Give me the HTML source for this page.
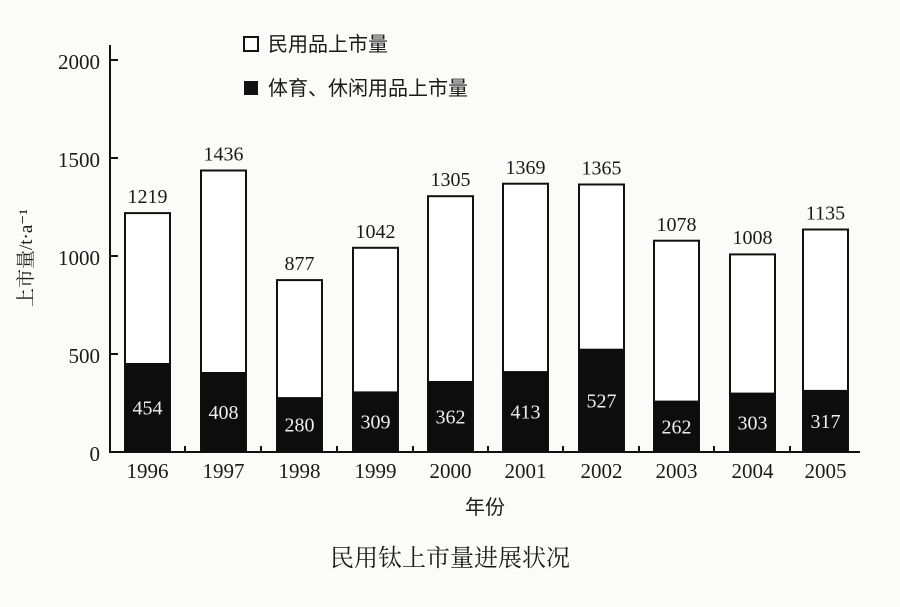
<!DOCTYPE html>
<html><head><meta charset="utf-8"><style>
html,body{margin:0;padding:0;background:#fbfbf9;}
svg{display:block}
text{font-family:"Liberation Serif","Noto Serif CJK SC",serif;fill:#1a1a1a}
.w{fill:#eee}
.b{fill:#fff;stroke:#111;stroke-width:2}
.k{fill:#0d0d0d}
</style></head><body>
<svg width="900" height="607" viewBox="0 0 900 607" xmlns="http://www.w3.org/2000/svg">
<rect width="900" height="607" fill="#fbfbf9"/>
<g stroke="#111" stroke-width="2" fill="none">
<line x1="110" y1="45" x2="110" y2="453"/>
<line x1="109" y1="452" x2="860" y2="452"/>
<line x1="110" y1="354" x2="118" y2="354"/>
<line x1="110" y1="256" x2="118" y2="256"/>
<line x1="110" y1="158" x2="118" y2="158"/>
<line x1="110" y1="60" x2="118" y2="60"/>
<line x1="185" y1="452" x2="185" y2="446"/>
<line x1="261" y1="452" x2="261" y2="446"/>
<line x1="337" y1="452" x2="337" y2="446"/>
<line x1="413" y1="452" x2="413" y2="446"/>
<line x1="488" y1="452" x2="488" y2="446"/>
<line x1="563" y1="452" x2="563" y2="446"/>
<line x1="639" y1="452" x2="639" y2="446"/>
<line x1="714" y1="452" x2="714" y2="446"/>
<line x1="790" y1="452" x2="790" y2="446"/>
</g>
<g font-size="21" text-anchor="end">
<text x="100" y="461">0</text>
<text x="100" y="363">500</text>
<text x="100" y="265">1000</text>
<text x="100" y="167">1500</text>
<text x="100" y="69">2000</text>
</g>
<text transform="translate(32,258) rotate(-90)" font-size="19" text-anchor="middle">上市量/t·a⁻¹</text>

<rect class="b" x="125" y="213.1" width="45" height="238.9"/><rect class="k" x="125" y="363" width="45" height="89"/>
<rect class="b" x="201" y="170.5" width="45" height="281.5"/><rect class="k" x="201" y="372" width="45" height="80"/>
<rect class="b" x="277" y="280.1" width="45" height="171.9"/><rect class="k" x="277" y="397.1" width="45" height="54.9"/>
<rect class="b" x="353" y="247.8" width="45" height="204.2"/><rect class="k" x="353" y="391.4" width="45" height="60.6"/>
<rect class="b" x="428" y="196.2" width="45" height="255.8"/><rect class="k" x="428" y="381" width="45" height="71"/>
<rect class="b" x="503" y="183.7" width="45" height="268.3"/><rect class="k" x="503" y="371.1" width="45" height="80.9"/>
<rect class="b" x="579" y="184.5" width="45" height="267.5"/><rect class="k" x="579" y="348.7" width="45" height="103.3"/>
<rect class="b" x="654" y="240.7" width="45" height="211.3"/><rect class="k" x="654" y="400.6" width="45" height="51.4"/>
<rect class="b" x="730" y="254.4" width="45" height="197.6"/><rect class="k" x="730" y="392.6" width="45" height="59.4"/>
<rect class="b" x="803" y="229.5" width="45" height="222.5"/><rect class="k" x="803" y="389.9" width="45" height="62.1"/>

<g font-size="20" text-anchor="middle">
<text x="147.5" y="203">1219</text>
<text x="223.5" y="160.5">1436</text>
<text x="299.5" y="270">877</text>
<text x="375.5" y="238">1042</text>
<text x="450.5" y="186">1305</text>
<text x="525.5" y="174">1369</text>
<text x="601.5" y="174.5">1365</text>
<text x="676.5" y="231">1078</text>
<text x="752.5" y="244">1008</text>
<text x="825.5" y="219.5">1135</text>
<text class="w" x="147.5" y="414.5">454</text>
<text class="w" x="223.5" y="419">408</text>
<text class="w" x="299.5" y="431.5">280</text>
<text class="w" x="375.5" y="428.7">309</text>
<text class="w" x="450.5" y="423.5">362</text>
<text class="w" x="525.5" y="418.5">413</text>
<text class="w" x="601.5" y="407.3">527</text>
<text class="w" x="676.5" y="433.3">262</text>
<text class="w" x="752.5" y="429.3">303</text>
<text class="w" x="825.5" y="428">317</text>
</g>
<g font-size="21" text-anchor="middle">
<text x="147.5" y="478">1996</text>
<text x="223.5" y="478">1997</text>
<text x="299.5" y="478">1998</text>
<text x="375.5" y="478">1999</text>
<text x="450.5" y="478">2000</text>
<text x="525.5" y="478">2001</text>
<text x="601.5" y="478">2002</text>
<text x="676.5" y="478">2003</text>
<text x="752.5" y="478">2004</text>
<text x="825.5" y="478">2005</text>
</g>

<rect x="244" y="37" width="14" height="14" fill="#fff" stroke="#111" stroke-width="2"/>
<text x="268" y="51" font-size="20" style="font-family:'Noto Sans CJK SC',sans-serif">民用品上市量</text>
<rect x="244" y="81" width="14" height="14" fill="#111"/>
<text x="268" y="95" font-size="20" style="font-family:'Noto Sans CJK SC',sans-serif">体育、休闲用品上市量</text>
<text x="485" y="514" font-size="20" text-anchor="middle" style="font-family:'Noto Sans CJK SC',sans-serif">年份</text>
<text x="450" y="566" font-size="24" text-anchor="middle" style="font-family:'Noto Serif CJK SC',serif">民用钛上市量进展状况</text>
</svg>
</body></html>
